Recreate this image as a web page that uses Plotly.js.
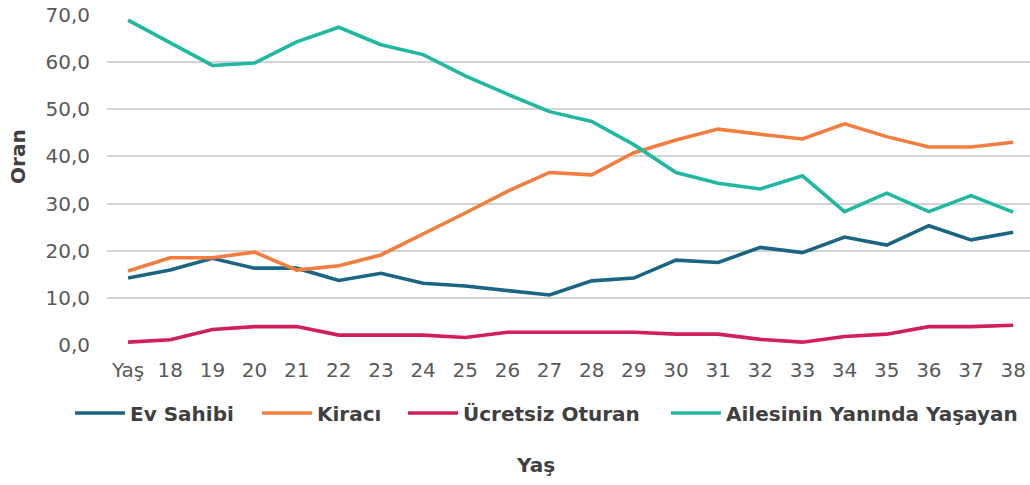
<!DOCTYPE html>
<html><head><meta charset="utf-8">
<script src="https://cdn.plot.ly/plotly-3.0.1.min.js"></script>
<style>html,body{margin:0;padding:0;background:#fff}#chart{width:1030px;height:485px}</style>
</head><body><div id="chart"></div>
<script>
const categories = ["Yaş","18","19","20","21","22","23","24","25","26","27","28","29","30","31","32","33","34","35","36","37","38"];
const evSahibi = [14.2,15.9,18.4,16.3,16.3,13.7,15.2,13.1,12.5,11.5,10.6,13.6,14.2,18.0,17.5,20.7,19.6,22.9,21.2,25.3,22.3,23.9];
const kiraci = [15.7,18.5,18.5,19.7,15.9,16.8,19.1,23.5,28.0,32.6,36.6,36.1,40.8,43.5,45.8,44.7,43.7,46.9,44.2,42.0,42.0,43.0];
const ucretsiz = [0.6,1.1,3.3,3.9,3.9,2.1,2.1,2.1,1.6,2.7,2.7,2.7,2.7,2.3,2.3,1.2,0.6,1.8,2.3,3.9,3.9,4.2];
const ailesinin = [68.9,64.2,59.3,59.8,64.3,67.4,63.7,61.6,57.1,53.2,49.5,47.4,42.5,36.6,34.3,33.1,35.9,28.3,32.2,28.3,31.7,28.2];
const seriesNames = ["Ev Sahibi","Kiracı","Ücretsiz Oturan","Ailesinin Yanında Yaşayan"];
const seriesColors = ["#1b6584","#f27d3c","#d11f5b","#20b7a3"];
const allSeries = [evSahibi, kiraci, ucretsiz, ailesinin];

const FONT = "DejaVu Sans";
const legendIds = ["legend","legend2","legend3","legend4"];
const legendLeftPx = [70, 257, 403, 666];
const plotL = 107, plotW = 923;

const traces = allSeries.map((vals, i) => ({
  type: "scatter", mode: "lines", x: categories, y: vals, name: seriesNames[i],
  legend: legendIds[i],
  line: {color: seriesColors[i], width: 3.6}, hoverinfo: "x+y"
}));

const layout = {
  width: 1030, height: 485,
  margin: {l: plotL, r: 0, t: 15, b: 140},
  paper_bgcolor: "#fff", plot_bgcolor: "#fff",
  separators: ",.",
  showlegend: true,
  xaxis: {type: "category", range: [-0.5, 21.4], showgrid: false, zeroline: false, showline: false,
    ticks: "", ticklabelstandoff: 11, tickfont: {family: FONT, size: 20, color: "#595959"}, fixedrange: true},
  yaxis: {range: [0, 70], dtick: 10, tickformat: ".1f", showgrid: true, gridcolor: "#d4d4d4", gridwidth: 2,
    zeroline: false, showline: false, ticks: "", ticklabelstandoff: 16,
    tickfont: {family: FONT, size: 20, color: "#595959"}, fixedrange: true},
  annotations: [
    {text: "Oran", xref: "paper", yref: "paper", x: -0.0964, y: 0.57, textangle: -90, showarrow: false,
      xanchor: "center", yanchor: "middle", font: {family: FONT, size: 20, color: "#404040", weight: "bold"}},
    {text: "Yaş", xref: "paper", yref: "paper", x: 0.464, y: -0.364, showarrow: false,
      xanchor: "center", yanchor: "middle", font: {family: FONT, size: 20, color: "#404040", weight: "bold"}}
  ]
};
legendIds.forEach((id, i) => {
  layout[id] = {orientation: "h", x: (legendLeftPx[i] - plotL) / plotW, xanchor: "left", y: -0.206, yanchor: "middle",
    itemwidth: 50, bgcolor: "rgba(0,0,0,0)", font: {family: FONT, size: 20, color: "#404040", weight: "bold"}};
});
Plotly.newPlot("chart", traces, layout, {displayModeBar: false, staticPlot: true});
</script></body></html>
